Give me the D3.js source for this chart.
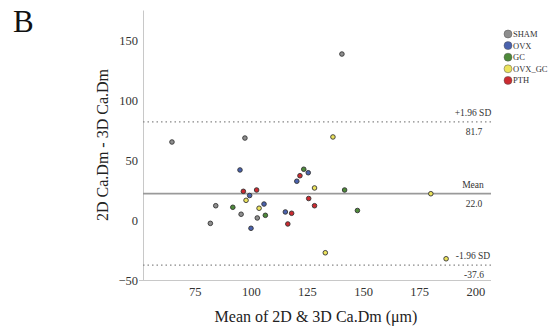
<!DOCTYPE html>
<html>
<head>
<meta charset="utf-8">
<script src="https://cdn.jsdelivr.net/npm/d3@7"></script>
<style>
  body { margin: 0; background: #fff; }
  svg { font-family: "Liberation Serif", "Times New Roman", serif; }
</style>
</head>
<body>
<svg width="560" height="333"></svg>
<script>
// groups + colours
const groups = ["SHAM", "OVX", "GC", "OVX_GC", "PTH"];
const groupColors = ["#8e8e8e", "#4a62ae", "#4e8a3a", "#ece35c", "#cc2a30"];

// mean of 2D & 3D (x), difference (y), group of each animal
const meanVals = [64.9, 97.4, 140.6, 136.6, 95.2, 123.6, 125.6, 121.9, 120.5, 96.7, 102.6,
  99.5, 97.9, 105.9, 103.7, 92.0, 84.4, 95.7, 102.9, 106.5, 82.0, 100.1, 128.4, 141.8,
  125.8, 128.4, 115.4, 118.2, 116.5, 147.5, 180.2, 133.2, 187.0];
const diffVals = [65.0, 68.3, 138.3, 69.2, 41.7, 42.3, 39.4, 36.9, 32.3, 23.9, 25.0,
  20.4, 16.4, 13.3, 9.8, 10.6, 11.9, 4.8, 1.7, 3.9, -2.8, -6.9, 26.7, 25.0,
  17.9, 11.9, 6.7, 5.6, -3.3, 7.9, 21.9, -27.3, -32.3];
const groupOf = ["SHAM", "SHAM", "SHAM", "OVX_GC", "OVX", "GC", "OVX", "PTH", "OVX", "PTH", "PTH",
  "OVX", "OVX_GC", "OVX", "OVX_GC", "GC", "SHAM", "SHAM", "SHAM", "GC", "SHAM", "OVX", "OVX_GC", "GC",
  "PTH", "PTH", "OVX", "PTH", "PTH", "GC", "OVX_GC", "OVX_GC", "OVX_GC"];

// reference lines
const refValues = [81.7, 22.0, -37.6];
const refNames = ["+1.96 SD", "Mean", "-1.96 SD"];

const xTicks = [75, 100, 125, 150, 175, 200];
const yTicks = [-50, 0, 50, 100, 150];

const svg = d3.select("svg");
const plotLeft = 143, plotRight = 491, plotTop = 10, plotBottom = 280;

const x = d3.scaleLinear().domain([52, 207]).range([plotLeft, plotRight]);
const y = d3.scaleLinear().domain([-50, 175]).range([plotBottom, plotTop]);
const color = d3.scaleOrdinal().domain(groups).range(groupColors);

// axes
const xAxis = svg.append("g")
  .attr("transform", "translate(0," + plotBottom + ")")
  .call(d3.axisBottom(x).tickValues(xTicks).tickSize(0).tickPadding(7).tickSizeOuter(0));
const yAxis = svg.append("g")
  .attr("transform", "translate(" + plotLeft + ",0)")
  .call(d3.axisLeft(y).tickValues(yTicks).tickSize(0).tickPadding(5).tickSizeOuter(0));

[xAxis, yAxis].forEach(a => {
  a.select(".domain").attr("stroke", "#c8c8c8").attr("stroke-width", 1);
  a.selectAll("text")
    .attr("font-family", "Liberation Serif, serif")
    .attr("font-size", 12.5)
    .attr("fill", "#333");
});
xAxis.select(".domain").attr("d", "M" + (plotLeft - 4) + ",0.5H" + plotRight);

// reference lines
refValues.forEach((v, i) => {
  svg.append("line")
    .attr("x1", plotLeft).attr("x2", plotRight)
    .attr("y1", y(v)).attr("y2", y(v))
    .attr("stroke", i === 1 ? "#9a9a9a" : "#888")
    .attr("stroke-width", i === 1 ? 1.8 : 1.2)
    .attr("stroke-dasharray", i === 1 ? null : "1.5,3");
  svg.append("text")
    .attr("x", 473).attr("y", y(v) - 6)
    .attr("text-anchor", "middle")
    .attr("font-size", 9.5).attr("fill", "#333")
    .text(refNames[i]);
  svg.append("text")
    .attr("x", 474).attr("y", y(v) + 13)
    .attr("text-anchor", "middle")
    .attr("font-size", 9.5).attr("fill", "#333")
    .text(v.toFixed(1));
});

// points
svg.append("g").selectAll("circle")
  .data(meanVals.map((m, i) => ({m: m, d: diffVals[i], g: groupOf[i]})))
  .join("circle")
  .attr("cx", d => x(d.m))
  .attr("cy", d => y(d.d))
  .attr("r", 2.3)
  .attr("fill", d => color(d.g))
  .attr("stroke", "#333")
  .attr("stroke-width", 0.9);

// legend
const legend = svg.append("g").attr("transform", "translate(508,34)");
groups.forEach((g, i) => {
  legend.append("circle")
    .attr("cx", 0).attr("cy", i * 11.6)
    .attr("r", 4)
    .attr("fill", color(g))
    .attr("stroke", "#555").attr("stroke-width", 0.5);
  legend.append("text")
    .attr("x", 5).attr("y", i * 11.6 + 3)
    .attr("font-size", 8.5).attr("fill", "#333")
    .text(g);
});

// titles
svg.append("text")
  .attr("x", 13).attr("y", 32)
  .attr("font-size", 31).attr("fill", "#111")
  .text("B");

svg.append("text")
  .attr("transform", "translate(108,145) rotate(-90)")
  .attr("text-anchor", "middle")
  .attr("font-size", 16).attr("fill", "#222")
  .text("2D Ca.Dm - 3D Ca.Dm");

svg.append("text")
  .attr("x", 316).attr("y", 322)
  .attr("text-anchor", "middle")
  .attr("font-size", 16).attr("fill", "#222")
  .text("Mean of 2D & 3D Ca.Dm (\u03bcm)");
</script>
</body>
</html>
